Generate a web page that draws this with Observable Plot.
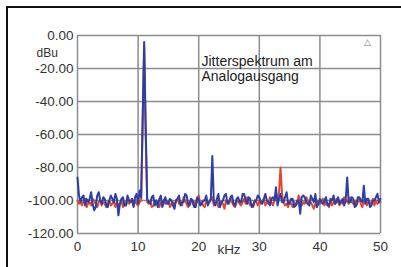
<!DOCTYPE html>
<html>
<head>
<meta charset="utf-8">
<script src="https://cdn.jsdelivr.net/npm/d3@7"></script>
<script src="https://cdn.jsdelivr.net/npm/@observablehq/plot@0.6"></script>
<style>
  html, body { margin: 0; padding: 0; background: #fff; }
  #wrap { position: relative; width: 401px; height: 267px; overflow: hidden; }
  #border { position: absolute; left: 6px; top: 6px; width: 400px; height: 270px;
            border-left: 2px solid #111; border-top: 2px solid #111; pointer-events: none; }
</style>
</head>
<body>
<div id="wrap"><div id="border"></div></div>
<script>
const freq = [
  0, 0.25, 0.5, 0.75, 1, 1.25, 1.5, 1.75, 2, 2.25, 2.5, 2.75, 3, 3.25, 3.5, 3.75, 4, 4.25, 4.5, 4.75,
  5, 5.25, 5.5, 5.75, 6, 6.25, 6.5, 6.75, 7, 7.25, 7.5, 7.75, 8, 8.25, 8.5, 8.75, 9, 9.25, 9.5, 9.75,
  10, 10.25, 10.5, 10.75, 11, 11.25, 11.5, 11.75, 12, 12.25, 12.5, 12.75, 13, 13.25, 13.5, 13.75, 14, 14.25, 14.5, 14.75,
  15, 15.25, 15.5, 15.75, 16, 16.25, 16.5, 16.75, 17, 17.25, 17.5, 17.75, 18, 18.25, 18.5, 18.75, 19, 19.25, 19.5, 19.75,
  20, 20.25, 20.5, 20.75, 21, 21.25, 21.5, 21.75, 22, 22.25, 22.5, 22.75, 23, 23.25, 23.5, 23.75, 24, 24.25, 24.5, 24.75,
  25, 25.25, 25.5, 25.75, 26, 26.25, 26.5, 26.75, 27, 27.25, 27.5, 27.75, 28, 28.25, 28.5, 28.75, 29, 29.25, 29.5, 29.75,
  30, 30.25, 30.5, 30.75, 31, 31.25, 31.5, 31.75, 32, 32.25, 32.5, 32.75, 33, 33.25, 33.5, 33.75, 34, 34.25, 34.5, 34.75,
  35, 35.25, 35.5, 35.75, 36, 36.25, 36.5, 36.75, 37, 37.25, 37.5, 37.75, 38, 38.25, 38.5, 38.75, 39, 39.25, 39.5, 39.75,
  40, 40.25, 40.5, 40.75, 41, 41.25, 41.5, 41.75, 42, 42.25, 42.5, 42.75, 43, 43.25, 43.5, 43.75, 44, 44.25, 44.5, 44.75,
  45, 45.25, 45.5, 45.75, 46, 46.25, 46.5, 46.75, 47, 47.25, 47.5, 47.75, 48, 48.25, 48.5, 48.75, 49, 49.25, 49.5, 49.75,
  50
];
const blueSeries = [
  -86, -97, -101, -98, -97, -103, -99, -101, -99, -95, -102, -106, -104, -97, -95, -100, -102, -98, -99, -103,
  -104, -100, -97, -99, -101, -96, -99, -109, -102, -99, -98, -103, -103, -97, -100, -101, -99, -104, -98, -96,
  -102, -94, -98, -50, -4, -55, -99, -101, -102, -98, -97, -103, -100, -104, -99, -97, -104, -100, -98, -102,
  -102, -99, -100, -103, -105, -100, -99, -97, -103, -101, -101, -96, -97, -102, -103, -99, -100, -104, -104, -98,
  -99, -103, -102, -100, -100, -97, -103, -101, -99, -73, -101, -103, -99, -96, -104, -101, -100, -97, -96, -102,
  -101, -98, -97, -102, -103, -99, -98, -101, -101, -96, -96, -100, -102, -98, -99, -104, -103, -100, -100, -97,
  -98, -101, -102, -99, -96, -100, -101, -103, -99, -98, -100, -92, -103, -99, -96, -101, -101, -98, -95, -102,
  -102, -99, -99, -104, -103, -100, -100, -108, -98, -97, -98, -101, -102, -103, -97, -99, -101, -96, -104, -102,
  -99, -101, -102, -100, -98, -103, -103, -99, -100, -97, -102, -101, -98, -102, -101, -99, -103, -100, -86, -101,
  -101, -98, -99, -104, -103, -98, -98, -100, -101, -91, -102, -99, -99, -104, -103, -100, -100, -98, -96, -101,
  -99
];
const redSeries = [
  -100, -102, -101, -103, -100, -99, -104, -102, -101, -103, -99, -100, -102, -104, -101, -100, -103, -101, -102, -104,
  -101, -100, -103, -102, -100, -104, -101, -103, -102, -100, -104, -101, -103, -100, -102, -101, -99, -103, -100, -102,
  -103, -101, -100, -55, -6, -60, -101, -102, -100, -104, -103, -101, -100, -102, -104, -101, -103, -100, -102, -101,
  -100, -104, -102, -101, -103, -100, -99, -102, -101, -103, -98, -100, -102, -104, -101, -99, -102, -103, -100, -101,
  -97, -102, -101, -103, -104, -100, -102, -101, -99, -98, -103, -102, -100, -104, -103, -101, -102, -105, -100, -101,
  -102, -99, -101, -103, -104, -101, -100, -102, -103, -101, -99, -102, -98, -101, -103, -102, -104, -100, -101, -103,
  -100, -102, -101, -99, -103, -101, -102, -98, -101, -103, -100, -97, -99, -95, -80, -96, -101, -103, -102, -104,
  -100, -102, -104, -101, -103, -102, -97, -100, -103, -101, -102, -98, -100, -102, -101, -103, -105, -102, -100, -101,
  -102, -100, -99, -103, -101, -102, -104, -100, -103, -101, -102, -99, -101, -103, -100, -102, -98, -101, -100, -102,
  -98, -101, -102, -100, -103, -101, -99, -102, -104, -100, -101, -103, -100, -102, -101, -99, -103, -100, -102, -101,
  -101
];
const xTicks = [0, 10, 20, 30, 40, 50];
const yTicks = [0, -20, -40, -60, -80, -100, -120];
const yUnit = "dBu";
const xUnit = "kHz";
const note = "Jitterspektrum am\nAnalogausgang";

const blue = freq.map((f, i) => ({f, v: blueSeries[i]}));
const red = freq.map((f, i) => ({f, v: redSeries[i]}));

const font = "Liberation Sans, Arial, sans-serif";
const chart = Plot.plot({
  width: 401,
  height: 267,
  marginLeft: 77,
  marginRight: 21,
  marginTop: 35,
  marginBottom: 34,
  style: {fontFamily: font, fontSize: "13px", color: "#333", background: "transparent", overflow: "visible"},
  x: {domain: [0, 50], ticks: xTicks, label: null},
  y: {domain: [-120, 0], ticks: yTicks, label: null},
  marks: [
    Plot.ruleX(xTicks, {stroke: "#8c8c8c", strokeWidth: 1.5}),
    Plot.ruleY(yTicks, {stroke: "#8c8c8c", strokeWidth: 1.5}),
    Plot.axisX(xTicks, {tickSize: 0, tickPadding: 8, fontSize: 13.5, fill: "#333"}),
    Plot.axisY(yTicks, {tickSize: 0, tickPadding: 4, fontSize: 13.5, fill: "#333",
      tickFormat: d => d.toFixed(2)}),
    Plot.line(red, {x: "f", y: "v", stroke: "#e8432c", strokeWidth: 2}),
    Plot.line(blue, {x: "f", y: "v", stroke: "#2b3fa6", strokeWidth: 2}),
    Plot.text([yUnit], {frameAnchor: "top-left", dx: -41, dy: 17.5, textAnchor: "start", lineAnchor: "middle",
      fontSize: 12, fill: "#333"}),
    Plot.text([xUnit], {frameAnchor: "bottom", dy: 16, lineAnchor: "middle", fontSize: 13.5, fill: "#333"}),
    Plot.text([note], {frameAnchor: "top-left", dx: 124, dy: 20, textAnchor: "start", lineAnchor: "top",
      lineHeight: 1.05, fontSize: 14, fill: "#222"}),
    Plot.text(["△"], {frameAnchor: "top-right", dx: -10, dy: 3, fontSize: 9, fill: "#777"})
  ]
});
document.getElementById("wrap").prepend(chart);
</script>
</body>
</html>
